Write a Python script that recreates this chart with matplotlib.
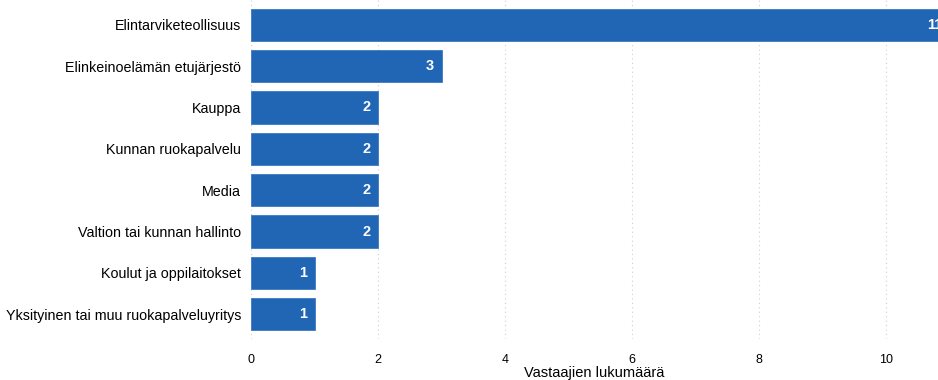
import matplotlib.pyplot as plt

plt.rcParams['font.family'] = ['Liberation Sans', 'DejaVu Sans']

categories = [
    'Elintarviketeollisuus',
    'Elinkeinoelämän etujärjestö',
    'Kauppa',
    'Kunnan ruokapalvelu',
    'Media',
    'Valtion tai kunnan hallinto',
    'Koulut ja oppilaitokset',
    'Yksityinen tai muu ruokapalveluyritys',
]
counts = [11, 3, 2, 2, 2, 2, 1, 1]
x_ticks = [0, 2, 4, 6, 8, 10]

bar_color = '#2166b5'

fig = plt.figure(figsize=(9.38, 3.8), dpi=100)
ax = fig.add_axes([251 / 938, 41 / 380, 687 / 938, 339 / 380])

ypos = list(range(len(categories)))
ax.barh(ypos, counts, height=0.78, color=bar_color, edgecolor='#3b7bc4', linewidth=0.6, zorder=2)

for y, v in zip(ypos, counts):
    ax.text(v - 0.12, y, str(v), ha='right', va='center', color='white',
            fontsize=10.5, fontweight='bold', clip_on=False, zorder=3)

ax.set_yticks(ypos)
ax.set_yticklabels(categories, fontsize=10.3)
ax.set_ylim(len(categories) - 0.4, -0.6)
ax.set_xlim(0, 687 / 63.5)
ax.set_xticks(x_ticks)
ax.set_xticklabels([str(t) for t in x_ticks], fontsize=9)
ax.tick_params(axis='both', length=0)
ax.tick_params(axis='y', pad=7)
ax.tick_params(axis='x', pad=11)
ax.set_xlabel('Vastaajien lukumäärä', fontsize=10.5, labelpad=0)

ax.grid(axis='x', linestyle=(0, (1, 3)), color='#cfcfcf', linewidth=0.8, zorder=0)
for s in ax.spines.values():
    s.set_visible(False)

fig.savefig('out.png', dpi=100)
